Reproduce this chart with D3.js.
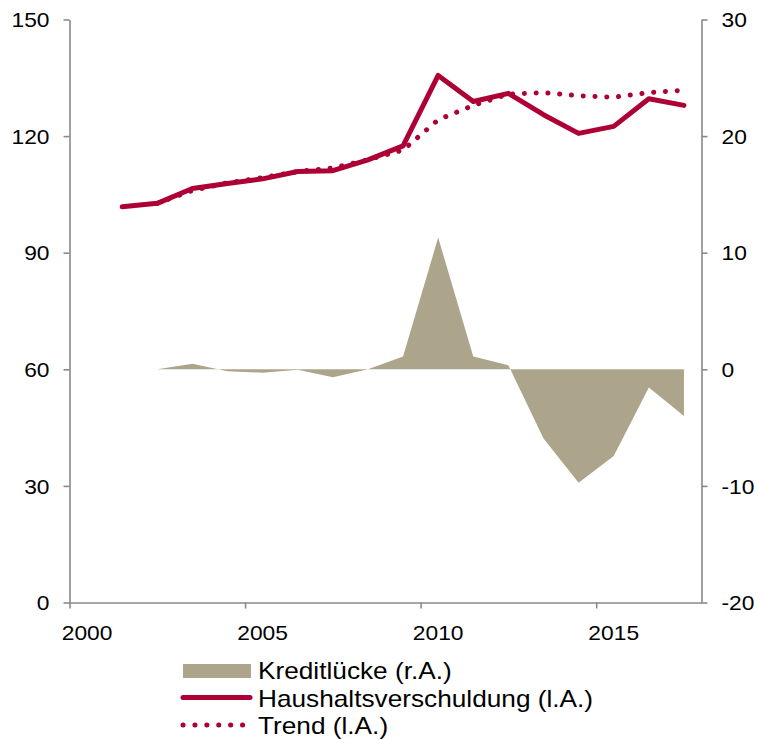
<!DOCTYPE html>
<html><head><meta charset="utf-8">
<script src="https://cdn.jsdelivr.net/npm/d3@7"></script>
<style>
body{margin:0;background:#fff}
text{font-family:Arial,"Liberation Sans",sans-serif;fill:#000}
</style>
</head><body>
<svg id="c" width="759" height="739"></svg>
<script>
// ---- data ----
const years = [2001,2002,2003,2004,2005,2006,2007,2008,2009,2010,2011,2012,2013,2014,2015,2016,2017];
const debt  = [101.8,102.7,106.5,107.8,109.0,110.9,111.1,113.9,117.5,135.6,128.9,131.0,125.5,120.7,122.5,129.6,127.9];
const trendYears = [2002,2003,2004,2005,2006,2007,2008,2009,2010,2011,2012,2013,2014,2015,2016,2017];
const trend = [102.7,106.0,108.0,109.3,110.9,111.8,113.9,116.4,124.2,127.9,130.8,131.2,130.4,130.0,131.2,131.8];
const gapYears = [2002,2003,2004,2005,2006,2007,2008,2009,2010,2011,2012,2013,2014,2015,2016,2017];
const gap = [0,0.48,-0.17,-0.29,-0.03,-0.69,0.0,1.09,11.3,1.09,0.34,-5.94,-9.72,-7.43,-1.57,-4.0];
const xTicks = [2000,2005,2010,2015];
const leftTicks = [0,30,60,90,120,150];
const rightTicks = [-20,-10,0,10,20,30];
const legendLabels = ["Kreditlücke (r.A.)","Haushaltsverschuldung (l.A.)","Trend (l.A.)"];

// ---- style ----
const RED = "#AD0034", TAN = "#ADA58B", AX = "#8A8A8A";
const SX = 1.14;

const svg = d3.select("#c");
const x = d3.scaleLinear().domain([2000,2018]).range([69.5,701.5]);
const yL = d3.scaleLinear().domain([0,150]).range([602.5,19.5]);
const yR = d3.scaleLinear().domain([-20,30]).range([602.5,19.5]);
const mid = d => x(d + 0.5);

// area (right axis)
const gapData = gapYears.map((yr,i)=>({yr, v:gap[i]}));
svg.append("path").datum(gapData)
  .attr("fill",TAN)
  .attr("d", d3.area().x(d=>mid(d.yr)).y0(yR(0)).y1(d=>yR(d.v)));

// axes
function stretchText(sel){
  sel.selectAll("text").each(function(){
    const t = d3.select(this);
    const tx = +t.attr("x") || 0;
    t.attr("x",0).attr("transform",`translate(${tx},0) scale(${SX},1)`);
  });
}
const plain = d => String(d);
const gL = svg.append("g").attr("transform","translate(69.5,0)")
  .call(d3.axisLeft(yL).tickValues(leftTicks).tickFormat(plain).tickSize(6).tickSizeOuter(0));
const gR = svg.append("g").attr("transform","translate(701.5,0)")
  .call(d3.axisRight(yR).tickValues(rightTicks).tickFormat(plain).tickSize(6).tickSizeOuter(0));
const gB = svg.append("g").attr("transform","translate(0,602.5)")
  .call(d3.axisBottom(x).tickValues(xTicks).tickSize(6).tickSizeOuter(0).tickFormat(""));
[gL,gR,gB].forEach(g=>{
  g.select(".domain").attr("stroke",AX).attr("stroke-width",1.6);
  g.selectAll(".tick line").attr("stroke",AX).attr("stroke-width",1.6);
  g.selectAll("text").attr("font-size",20).attr("font-family","Arial, 'Liberation Sans', sans-serif").attr("fill","#000");
});
gL.selectAll(".tick text").attr("x",-20).attr("dy","0.36em");
gR.selectAll(".tick text").attr("x",20).attr("dy","0.36em");
stretchText(gL); stretchText(gR);
// x labels at mid-year
svg.append("g").selectAll("text").data(xTicks).join("text")
  .attr("text-anchor","middle").attr("font-size",20)
  .attr("transform",d=>`translate(${mid(d)},640) scale(${SX},1)`)
  .text(d=>d);

// trend dotted line
const trendData = trendYears.map((yr,i)=>({yr,v:trend[i]}));
svg.append("path").datum(trendData)
  .attr("fill","none").attr("stroke",RED).attr("stroke-width",5)
  .attr("stroke-linecap","round").attr("stroke-dasharray","0.1 11.7")
  .attr("d", d3.line().x(d=>mid(d.yr)).y(d=>yL(d.v)));

// debt line
const debtData = years.map((yr,i)=>({yr,v:debt[i]}));
svg.append("path").datum(debtData)
  .attr("fill","none").attr("stroke",RED).attr("stroke-width",5)
  .attr("stroke-linejoin","round").attr("stroke-linecap","round")
  .attr("d", d3.line().x(d=>mid(d.yr)).y(d=>yL(d.v)));

// legend
const lg = svg.append("g");
lg.append("rect").attr("x",183).attr("y",664).attr("width",68).attr("height",14).attr("fill",TAN);
lg.append("line").attr("x1",183).attr("x2",250).attr("y1",697.5).attr("y2",697.5)
  .attr("stroke",RED).attr("stroke-width",5).attr("stroke-linecap","round");
lg.append("line").attr("x1",183).attr("x2",243).attr("y1",725).attr("y2",725)
  .attr("stroke",RED).attr("stroke-width",5).attr("stroke-linecap","round").attr("stroke-dasharray","0.1 11.8");
const ly = [679,706.5,734];
lg.selectAll("text.lt").data(legendLabels).join("text").attr("class","lt")
  .attr("font-size",23)
  .attr("transform",(d,i)=>`translate(258,${ly[i]}) scale(${SX},1)`)
  .text(d=>d);
</script>
</body></html>
